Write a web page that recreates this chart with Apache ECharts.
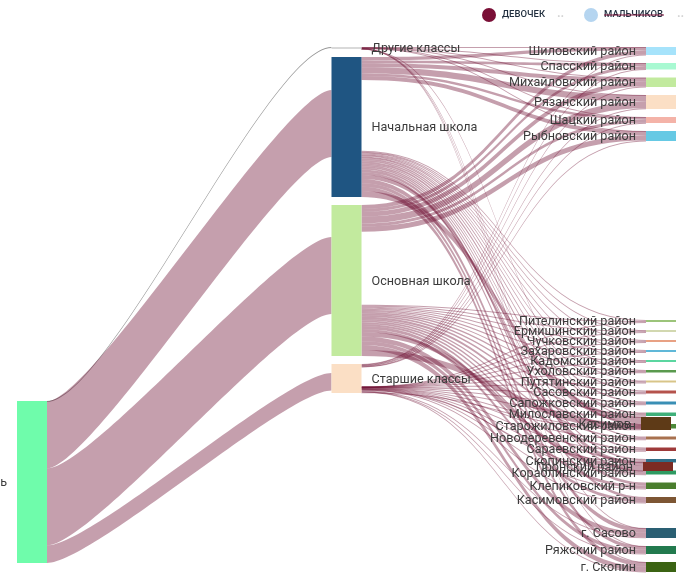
<!DOCTYPE html>
<html><head><meta charset="utf-8">
<style>html,body{margin:0;padding:0;background:#fff}#c{width:694px;height:588px}</style>
<script src="https://cdn.jsdelivr.net/npm/echarts@6/dist/echarts.min.js"></script>
</head><body><div id="c"></div>
<script>
// Values
const sourceName = 'ь';
const classes = ['Другие классы', 'Начальная школа', 'Основная школа', 'Старшие классы'];
const classColors = ['#d9d9d9', '#1f5582', '#c2ea9e', '#fbdfc5'];
const sourceToClass = [0.5, 67, 77, 17.5];
// share of each class node that is not part of the visible girls' flow
const hiddenAbove = [0, 33, 32, 9];
const hiddenBelow = [0, 40, 42, 2.5];
const hiddenGap = [0, 70.8, 72.9, 19.3];

const districts = ['Шиловский район','Спасский район','Михайловский район','Рязанский район','Шацкий район','Рыбновский район',
 'Пителинский район','Ермишинский район','Чучковский район','Захаровский район','Кадомский район','Ухоловский район','Путятинский район',
 'Сасовский район','Сапожковский район','Милославский район','Старожиловский район','Новодеревенский район','Сараевский район',
 'Скопинский район','Кораблинский район','Клепиковский р-н','Касимовский район','Пронский район','г. Сасово','Ряжский район','г. Скопин','Касимов'];
const districtColors = ['#a6e3fb','#a8f9d2','#c2ea9e','#fbdfc5','#f4b3a8','#66c9e4',
 '#9cc47a','#d2d8b0','#e8a184','#60b8d8','#5bd6a0','#5a9a4e','#d8c588',
 '#b5534c','#3a8fb5','#40b07a','#4d8a3a','#a8714f','#9e3a3a',
 '#2f6d87','#2e9a62','#4a7d2d','#7d5634','#7c2b23','#2a5f73','#227a4e','#3b6313','#5e3a17'];
const fromOther =   [.2,.2,.2,.2,.2,.2, 0,0,0,0,0,0,0, 0,0,0,0,0,0, 0,0,0,0,0,.2,.2,.2,.2];
const fromPrimary = [3.4,2.8,4.1,6.2,2.5,4.0, .9,.9,.9,.9,.9,1.1,.9, 1.3,1.3,1.5,2,1.3,1.5, 1.5,1.7,2.9,2.6,4,4.3,3.5,4.4,5.9];
const fromBasic =   [3.9,3.1,4.6,6.9,3.0,5.3, 1,1,1,1,1,1.2,1, 1.5,1.5,1.8,2.2,1.5,1.8, 1.7,2,3.2,3,4.4,4.7,3.9,4.8,6.1];
const fromSenior =  [.5,.4,.6,.7,.3,.5, .1,.1,.1,.1,.1,.2,.1, .2,.2,.2,.3,.2,.2, .3,.3,.4,.4,.6,.8,.4,.6,.8];
const fromClass = [fromOther, fromPrimary, fromBasic, fromSenior];
const legendItems = ['ДЕВОЧЕК', 'МАЛЬЧИКОВ'];

// Node placement (only the nodes that sit away from the automatic stacking)
const LEFT = 17, TOP = 47, WIDTH = 659, GAP = 8;
const draggedNodes = { 'ь': [0, 401], 'Касимов': [641, 417], 'Пронский район': [643, 462] };

const hiddenStyle = { itemStyle: { opacity: 0 }, label: { show: false } };
const font = { fontFamily: 'Roboto', fontSize: 12.6, color: '#3c3c3c', distance: 10, offset: [0, 1] };

const rightTotals = districts.map((_, i) => fromClass.reduce((s, a) => s + a[i], 0));
const spacerTotal = hiddenGap.reduce((s, v) => s + v, 0);
const rightSum = rightTotals.reduce((s, v) => s + v, 0) + spacerTotal;
const H = rightSum + districts.length * GAP;

function place(name, node) {
  const d = draggedNodes[name];
  if (d) {
    if (d[0]) node.localX = (d[0] - LEFT) / WIDTH;
    node.localY = (d[1] - TOP) / H;
  }
  return node;
}

const nodes = [];
nodes.push({ name: '_above', ...hiddenStyle });
nodes.push(place(sourceName, { name: sourceName, itemStyle: { color: '#6ffcab' }, label: { position: 'left', ...font } }));
nodes.push({ name: '_below', ...hiddenStyle });
classes.forEach((c, i) => nodes.push({ name: c, itemStyle: { color: classColors[i] }, label: { position: 'right', ...font } }));
districts.forEach((d, i) => {
  if (i === 6) nodes.push({ name: '_gap', ...hiddenStyle });
  nodes.push(place(d, { name: d, itemStyle: { color: districtColors[i] }, label: { position: 'left', ...font } }));
});

const hiddenLine = { lineStyle: { opacity: 0 } };
const links = [];
classes.forEach((c, i) => {
  if (hiddenAbove[i]) links.push({ source: '_above', target: c, value: hiddenAbove[i], ...hiddenLine });
  links.push({ source: sourceName, target: c, value: sourceToClass[i],
    lineStyle: i === 0 ? { color: '#666', opacity: 0.7, curveness: 0.22 } : { curveness: 0.16 } });
  if (hiddenBelow[i]) links.push({ source: '_below', target: c, value: hiddenBelow[i], ...hiddenLine });
  if (hiddenGap[i]) links.push({ source: c, target: '_gap', value: hiddenGap[i], ...hiddenLine });
  districts.forEach((d, j) => {
    if (fromClass[i][j]) links.push({ source: c, target: d, value: fromClass[i][j] });
  });
});

const chart = echarts.init(document.getElementById('c'), null, { renderer: 'canvas' });
chart.setOption({
  animation: false,
  backgroundColor: '#fff',
  series: [{
    type: 'sankey',
    left: LEFT, top: TOP, width: WIDTH, height: H,
    nodeWidth: 30, nodeGap: GAP,
    layoutIterations: 0,
    nodeAlign: 'justify',
    draggable: false,
    emphasis: { disabled: true },
    lineStyle: { color: '#6e1033', opacity: 0.4, curveness: 0.5 },
    data: nodes,
    links: links
  }],
  graphic: [
    { type: 'circle', shape: { cx: 489, cy: 15, r: 7 }, style: { fill: '#7a0f36' } },
    { type: 'text', x: 502, y: 15, style: { text: legendItems[0], font: '500 9.5px Roboto', fill: '#1f2d3d', verticalAlign: 'middle' } },
    { type: 'text', x: 557, y: 18, style: { text: '··', font: 'bold 12px Roboto', fill: '#d4d4d4', verticalAlign: 'middle' } },
    { type: 'circle', shape: { cx: 591, cy: 15, r: 7 }, style: { fill: '#b5d5f0' } },
    { type: 'text', x: 604, y: 15, style: { text: legendItems[1], font: '500 9.5px Roboto', fill: '#1f2d3d', verticalAlign: 'middle' } },
    { type: 'line', shape: { x1: 604, y1: 15, x2: 664, y2: 15 }, style: { stroke: '#7a0f36', lineWidth: 1 } },
    { type: 'text', x: 677, y: 18, style: { text: '··', font: 'bold 12px Roboto', fill: '#d4d4d4', verticalAlign: 'middle' } }
  ]
});
</script></body></html>
